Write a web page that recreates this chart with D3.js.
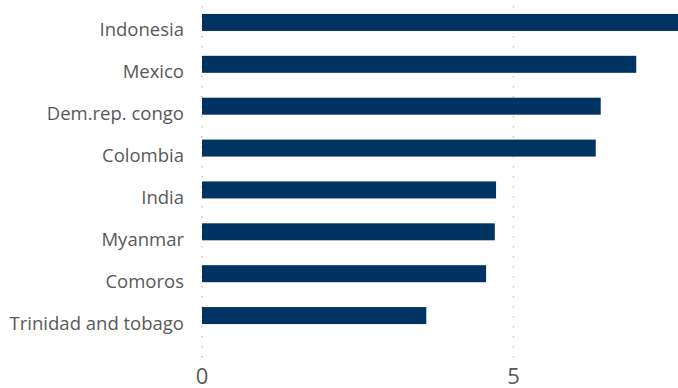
<!DOCTYPE html>
<html lang="en">
<head>
  <meta charset="UTF-8">
  <title>Horizontal bar chart</title>
  <script src="https://d3js.org/d3.v7.min.js"></script>
  <style>
    body { margin: 0; background: #fff; }
    .label { font-family: "Open Sans", sans-serif; font-size: 18.5px; fill: #595959; }
    .tick-label { font-family: "Open Sans", sans-serif; font-size: 22px; fill: #595959; }
    .grid { stroke: #c8c8c8; stroke-width: 1.5; stroke-dasharray: 1.5 8.5; }
  </style>
</head>
<body>
  <svg id="chart" width="678" height="388"></svg>
  <script>
    // data
    const countries = ["Indonesia", "Mexico", "Dem.rep. congo", "Colombia",
                       "India", "Myanmar", "Comoros", "Trinidad and tobago"];
    const values = [7.65, 6.97, 6.40, 6.32, 4.72, 4.70, 4.56, 3.60];
    const tickValues = [0, 5];

    const svg = d3.select("#chart");

    const x = d3.scaleLinear()
      .domain([0, 5])
      .range([202, 513.5]);

    const y = d3.scaleBand()
      .domain(countries)
      .range([1.5, 336.5])
      .paddingInner(0.594)
      .paddingOuter(0.297);

    // dotted gridlines
    svg.selectAll(".grid")
      .data(tickValues)
      .enter().append("line")
      .attr("class", "grid")
      .attr("x1", d => x(d)).attr("x2", d => x(d))
      .attr("y1", 6).attr("y2", 359);

    // bars
    svg.selectAll(".bar")
      .data(values)
      .enter().append("rect")
      .attr("class", "bar")
      .attr("fill", "#003361")
      .attr("x", x(0))
      .attr("y", (d, i) => y(countries[i]))
      .attr("width", d => x(d) - x(0))
      .attr("height", y.bandwidth());

    // category labels
    svg.selectAll(".label")
      .data(countries)
      .enter().append("text")
      .attr("class", "label")
      .attr("x", 184)
      .attr("y", d => y(d) + y.bandwidth() / 2 + 9)
      .attr("text-anchor", "end")
      .attr("dominant-baseline", "middle")
      .text(d => d);

    // x tick labels
    svg.selectAll(".tick-label")
      .data(tickValues)
      .enter().append("text")
      .attr("class", "tick-label")
      .attr("x", d => x(d))
      .attr("y", 384)
      .attr("text-anchor", "middle")
      .text(d => d);
  </script>
</body>
</html>
